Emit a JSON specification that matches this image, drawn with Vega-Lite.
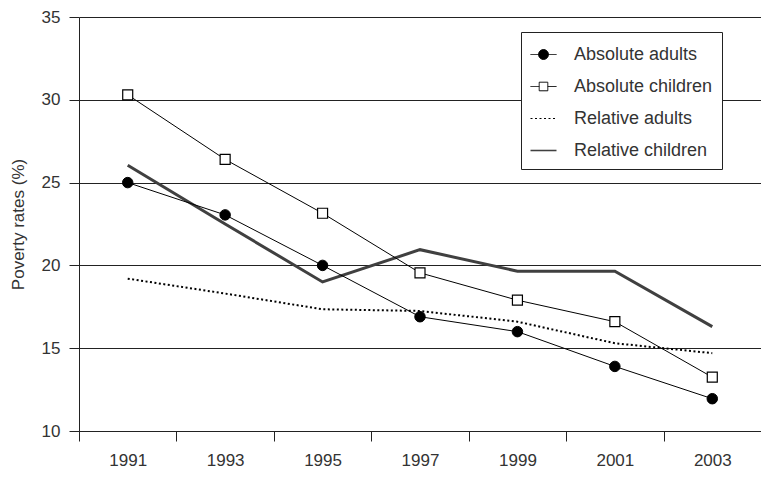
{
  "$schema": "https://vega.github.io/schema/vega-lite/v6.json",
  "width": 682,
  "height": 414,
  "autosize": {"type": "none"},
  "padding": {"left": 79, "top": 17, "right": 0, "bottom": 65},
  "background": "white",
  "config": {
    "view": {"stroke": null},
    "font": "Liberation Sans",
    "axis": {
      "labelFont": "Liberation Sans",
      "titleFont": "Liberation Sans",
      "labelFontSize": 17,
      "labelColor": "#333",
      "titleFontSize": 17,
      "titleFontWeight": "normal",
      "titleColor": "#333",
      "domainColor": "#222",
      "tickColor": "#222",
      "tickSize": 10,
      "domainWidth": 1,
      "tickWidth": 1
    },
    "legend": {
      "title": null,
      "symbolSize": 676,
      "labelFontSize": 18,
      "labelColor": "#333",
      "labelFont": "Liberation Sans",
      "labelOffset": 17,
      "padding": 9,
      "rowPadding": 9,
      "strokeColor": "#222",
      "fillColor": "white",
      "symbolOpacity": 1
    }
  },
  "data": {
    "values": [
      {"year": "1991", "series": "Absolute adults", "value": 25.0},
      {"year": "1993", "series": "Absolute adults", "value": 23.05},
      {"year": "1995", "series": "Absolute adults", "value": 20.0},
      {"year": "1997", "series": "Absolute adults", "value": 16.9},
      {"year": "1999", "series": "Absolute adults", "value": 16.0},
      {"year": "2001", "series": "Absolute adults", "value": 13.9},
      {"year": "2003", "series": "Absolute adults", "value": 11.95},
      {"year": "1991", "series": "Absolute children", "value": 30.3},
      {"year": "1993", "series": "Absolute children", "value": 26.4},
      {"year": "1995", "series": "Absolute children", "value": 23.15},
      {"year": "1997", "series": "Absolute children", "value": 19.55},
      {"year": "1999", "series": "Absolute children", "value": 17.9},
      {"year": "2001", "series": "Absolute children", "value": 16.6},
      {"year": "2003", "series": "Absolute children", "value": 13.25},
      {"year": "1991", "series": "Relative adults", "value": 19.2},
      {"year": "1993", "series": "Relative adults", "value": 18.3},
      {"year": "1995", "series": "Relative adults", "value": 17.35},
      {"year": "1997", "series": "Relative adults", "value": 17.25},
      {"year": "1999", "series": "Relative adults", "value": 16.6},
      {"year": "2001", "series": "Relative adults", "value": 15.3},
      {"year": "2003", "series": "Relative adults", "value": 14.7},
      {"year": "1991", "series": "Relative children", "value": 26.05},
      {"year": "1993", "series": "Relative children", "value": 22.5},
      {"year": "1995", "series": "Relative children", "value": 19.0},
      {"year": "1997", "series": "Relative children", "value": 20.95},
      {"year": "1999", "series": "Relative children", "value": 19.65},
      {"year": "2001", "series": "Relative children", "value": 19.65},
      {"year": "2003", "series": "Relative children", "value": 16.3}
    ]
  },
  "encoding": {
    "x": {
      "field": "year",
      "type": "ordinal",
      "bandPosition": 0.5,
      "scale": {"type": "band", "paddingInner": 0, "paddingOuter": 0},
      "axis": {"title": null, "labelAngle": 0, "tickBand": "extent", "labelPadding": 11, "grid": false}
    },
    "y": {
      "field": "value",
      "type": "quantitative",
      "scale": {"domain": [10, 35], "nice": false, "zero": false},
      "axis": {
        "title": "Poverty rates (%)",
        "values": [10, 15, 20, 25, 30, 35],
        "labelPadding": 9,
        "titlePadding": 14,
        "grid": true,
        "gridColor": "#222",
        "gridWidth": 1
      }
    }
  },
  "layer": [
    {
      "transform": [{"filter": "datum.series === 'Relative children'"}],
      "mark": {"type": "line", "stroke": "#404040", "strokeWidth": 3}
    },
    {
      "transform": [{"filter": "datum.series === 'Relative adults'"}],
      "mark": {"type": "line", "stroke": "black", "strokeWidth": 2, "strokeDash": [2, 2.5]}
    },
    {
      "transform": [{"filter": "datum.series === 'Absolute children'"}],
      "mark": {"type": "line", "stroke": "black", "strokeWidth": 1}
    },
    {
      "transform": [{"filter": "datum.series === 'Absolute adults'"}],
      "mark": {"type": "line", "stroke": "black", "strokeWidth": 1}
    },
    {
      "transform": [{"filter": "datum.series === 'Absolute children'"}],
      "mark": {"type": "point", "shape": "square", "filled": true, "fill": "white", "stroke": "black", "strokeWidth": 1.2, "size": 100, "opacity": 1}
    },
    {
      "transform": [{"filter": "datum.series === 'Absolute adults'"}],
      "mark": {"type": "point", "shape": "circle", "filled": true, "fill": "black", "stroke": "black", "strokeWidth": 1, "size": 110, "opacity": 1}
    },
    {
      "mark": {"type": "point", "opacity": 0},
      "encoding": {
        "shape": {
          "field": "series", "type": "nominal",
          "scale": {"domain": ["Absolute adults", "Absolute children", "Relative adults", "Relative children"],
                    "range": ["M-1,0H1M0.38,0A0.38,0.38,0,1,1,-0.38,0A0.38,0.38,0,1,1,0.38,0Z", "M-1,0H-0.33M0.33,0H1M-0.33,-0.33H0.33V0.33H-0.33Z", "M-1,0H1", "M-1,-0.06H1V0.06H-1Z"]},
          "legend": {"orient": "none", "legendX": 442, "legendY": 15}
        },
        "fill": {
          "field": "series", "type": "nominal",
          "scale": {"domain": ["Absolute adults", "Absolute children", "Relative adults", "Relative children"],
                    "range": ["black", "white", "transparent", "#404040"]},
          "legend": {"orient": "none", "legendX": 442, "legendY": 15}
        },
        "stroke": {
          "field": "series", "type": "nominal",
          "scale": {"domain": ["Absolute adults", "Absolute children", "Relative adults", "Relative children"],
                    "range": ["black", "black", "black", "transparent"]},
          "legend": {"orient": "none", "legendX": 442, "legendY": 15}
        },
        "strokeDash": {
          "field": "series", "type": "nominal",
          "scale": {"domain": ["Absolute adults", "Absolute children", "Relative adults", "Relative children"],
                    "range": [[1, 0], [1, 0], [2, 2.5], [1, 0]]},
          "legend": {"orient": "none", "legendX": 442, "legendY": 15}
        },
        "strokeWidth": {
          "field": "series", "type": "nominal",
          "scale": {"domain": ["Absolute adults", "Absolute children", "Relative adults", "Relative children"],
                    "range": [1, 1, 2, 1]},
          "legend": {"orient": "none", "legendX": 442, "legendY": 15}
        }
      }
    }
  ]
}
